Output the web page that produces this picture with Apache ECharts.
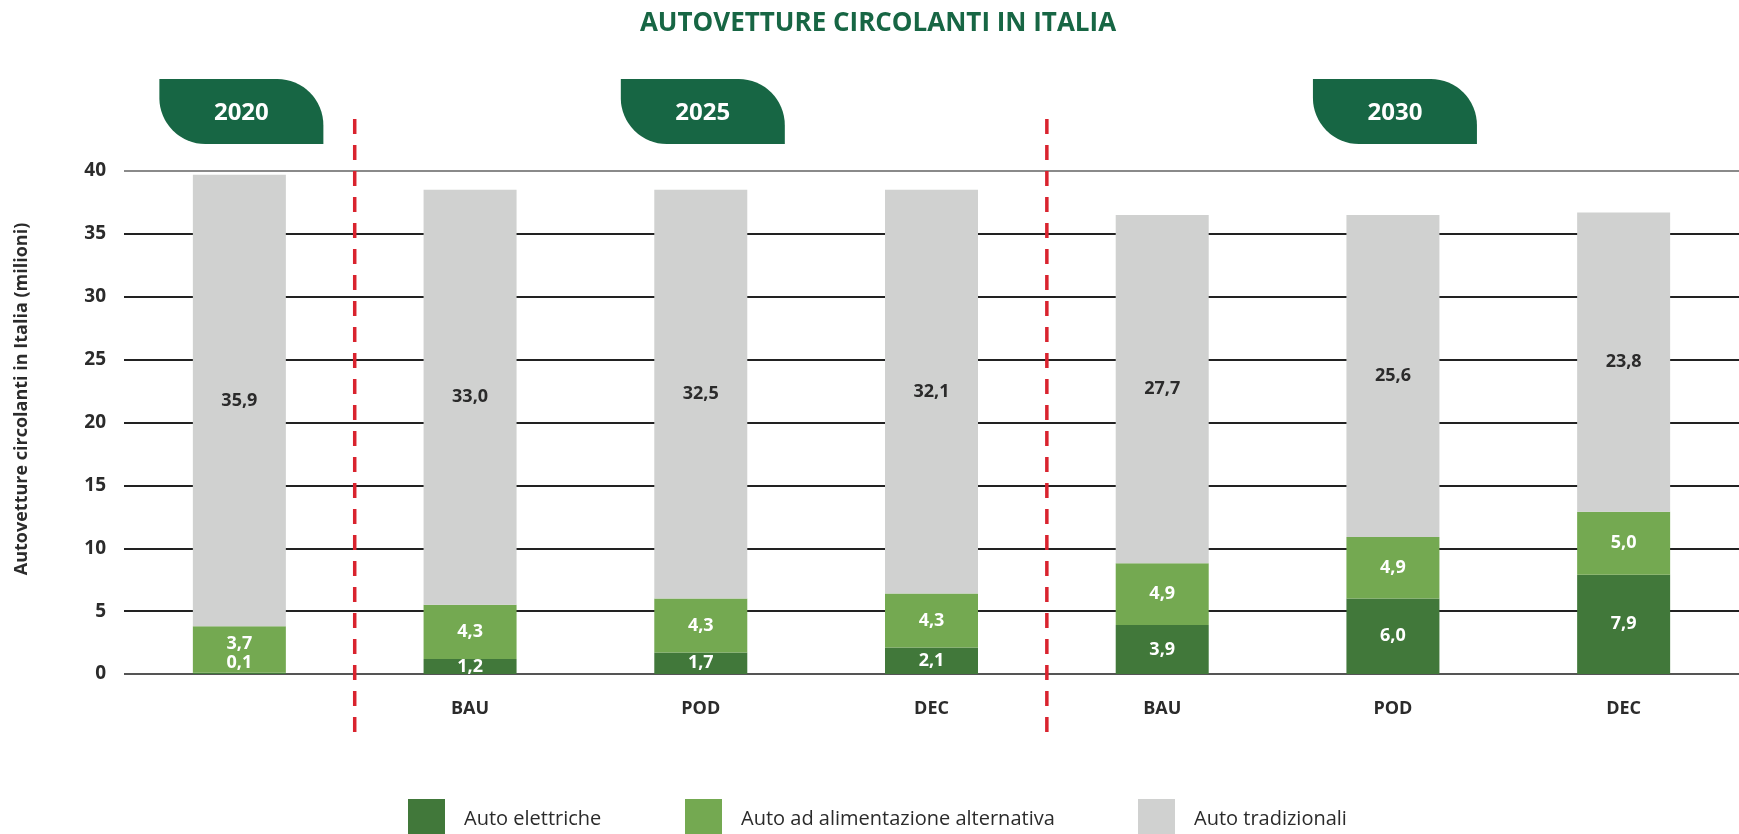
<!DOCTYPE html>
<html>
<head>
<meta charset="utf-8">
<script src="https://cdn.jsdelivr.net/npm/echarts@6/dist/echarts.min.js"></script>
<style>
  html, body { margin: 0; padding: 0; background: #fff; }
  #chart { width: 1739px; height: 834px; }
</style>
</head>
<body>
<div id="chart"></div>
<script>
var categories = ['', 'BAU', 'POD', 'DEC', 'BAU', 'POD', 'DEC'];
var elettriche = [0.1, 1.2, 1.7, 2.1, 3.9, 6.0, 7.9];
var alternative = [3.7, 4.3, 4.3, 4.3, 4.9, 4.9, 5.0];
var tradizionali = [35.9, 33.0, 32.5, 32.1, 27.7, 25.6, 23.8];
var years = ['2020', '2025', '2030'];
var yearCenters = [0, 2, 5];      // category index under each year badge
var separators = [0, 3];          // dashed line after these categories
var seriesNames = ['Auto elettriche', 'Auto ad alimentazione alternativa', 'Auto tradizionali'];

var font = '"Open Sans", Lato, sans-serif';
var fmt = function (p) { return p.value.toFixed(1).replace('.', ','); };

var myChart = echarts.init(document.getElementById('chart'));

function makeData(values, shifts) {
    return values.map(function (v, i) {
        if (shifts && shifts[i]) return { value: v, label: { offset: [0, shifts[i]] } };
        return v;
    });
}

var labelBase = { show: true, position: 'inside', formatter: fmt, fontFamily: font, fontSize: 18, fontWeight: 'bold' };

var option = {
    animation: false,
    grid: { left: 124, right: -6, top: 171, bottom: 160 },
    xAxis: {
        type: 'category',
        data: categories,
        axisLine: { show: false },
        axisTick: { show: false },
        axisLabel: { color: '#2b2b2b', fontFamily: font, fontSize: 18, fontWeight: 'bold', margin: 26 }
    },
    yAxis: {
        type: 'value',
        min: 0, max: 40, interval: 5,
        axisLine: { show: false },
        axisTick: { show: false },
        axisLabel: { color: '#2b2b2b', fontFamily: font, fontSize: 19, fontWeight: 'bold', margin: 18 },
        splitLine: { lineStyle: { color: ['#555', '#222', '#222', '#222', '#222', '#222', '#222', '#222', '#8a8a8a'], width: 1.8 } }
    },
    legend: [0, 1, 2].map(function (k) {
        return {
            data: [seriesNames[k]],
            left: [408, 685, 1138][k], top: 799, padding: 0,
            icon: 'rect', itemWidth: 37, itemHeight: 40,
            textStyle: { color: '#2b2b2b', fontFamily: font, fontSize: 20, padding: [0, 0, 0, 14] }
        };
    }),
    series: [
        { name: seriesNames[0], type: 'bar', stack: 'tot', barWidth: 93,
          itemStyle: { color: '#41783a' },
          label: Object.assign({ color: '#fff' }, labelBase),
          data: makeData(elettriche, [-10]) },
        { name: seriesNames[1], type: 'bar', stack: 'tot', barWidth: 93,
          itemStyle: { color: '#74a951' },
          label: Object.assign({ color: '#fff' }, labelBase),
          data: makeData(alternative, [-6]) },
        { name: seriesNames[2], type: 'bar', stack: 'tot', barWidth: 93,
          itemStyle: { color: '#d0d1d0' },
          label: Object.assign({ color: '#2b2b2b' }, labelBase),
          data: tradizionali }
    ]
};
myChart.setOption(option);

var gfx = [{
    type: 'text', x: 878, y: 24,
    style: { text: 'AUTOVETTURE CIRCOLANTI IN ITALIA', fill: '#176644', font: 'bold 26px ' + font, textAlign: 'center', textVerticalAlign: 'middle' }
}, {
    type: 'text', x: 22, y: 399, rotation: Math.PI / 2,
    style: { text: 'Autovetture circolanti in Italia (milioni)', fill: '#2b2b2b', font: 'bold 18px ' + font, textAlign: 'center', textVerticalAlign: 'middle' }
}];

separators.forEach(function (c) {
    var x = (myChart.convertToPixel({ xAxisIndex: 0 }, c) + myChart.convertToPixel({ xAxisIndex: 0 }, c + 1)) / 2;
    gfx.push({
        type: 'line', z: 10,
        shape: { x1: x, y1: 119, x2: x, y2: 741 },
        style: { stroke: '#d9232e', lineWidth: 3.5, lineDash: [15, 11] }
    });
});

years.forEach(function (y, i) {
    var cx = myChart.convertToPixel({ xAxisIndex: 0 }, yearCenters[i]) + 2;
    gfx.push({
        type: 'rect',
        shape: { x: cx - 82, y: 79, width: 164, height: 65, r: [0, 46, 0, 46] },
        style: { fill: '#176644' }
    });
    gfx.push({
        type: 'text', x: cx, y: 113,
        style: { text: y, fill: '#fff', font: 'bold 24px ' + font, textAlign: 'center', textVerticalAlign: 'middle' }
    });
});

myChart.setOption({ graphic: gfx });
</script>
</body>
</html>
